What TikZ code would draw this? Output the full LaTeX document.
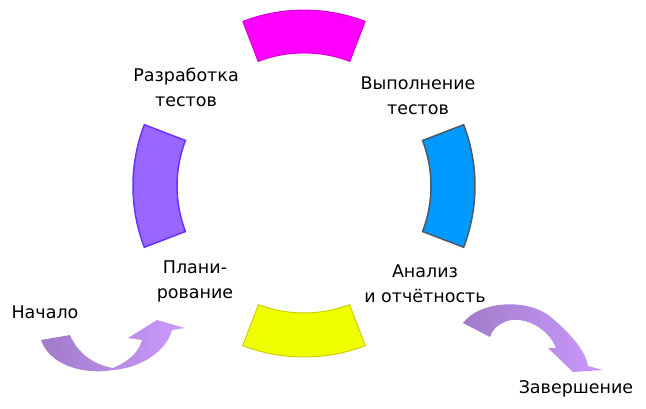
\documentclass[tikz,border=0pt]{standalone}
\usepackage{fontspec}
\setmainfont{DejaVu Sans}
\usetikzlibrary{calc}
\definecolor{segmag}{HTML}{FF00FF}
\definecolor{segmagline}{HTML}{C800C8}
\definecolor{segpur}{HTML}{9966FF}
\definecolor{segpurline}{HTML}{6633FF}
\definecolor{segblue}{HTML}{0099FF}
\definecolor{segblueline}{HTML}{4D5A66}
\definecolor{segyel}{HTML}{F0FF00}
\definecolor{segyelline}{HTML}{CCD000}
\definecolor{arrdark}{HTML}{A07CC8}
\definecolor{arrlight}{HTML}{CC99FF}
\newcommand{\ringseg}[4]{% center, mid angle, outer R, inner r
  ($(#1)+(#2-21:#3)$) arc[start angle=#2-21, end angle=#2+21, radius=#3]
  -- ($(#1)+(#2+21:#4)$) arc[start angle=#2+21, end angle=#2-21, radius=#4] -- cycle}
\tikzset{
  lbl/.style={inner sep=0pt, anchor=base, font=\fontsize{17.5}{25}\selectfont},
  arrowband/.style={left color=arrdark, right color=arrlight, draw=none},
}
\begin{document}
\begin{tikzpicture}[x=1pt,y=-1pt]
\useasboundingbox (0,0) rectangle (646,409);
\coordinate (C) at (304,186);
\coordinate (Ct) at (304,181);
% ring segments
\path[fill=segmag, draw=segmagline, line width=0.8pt] \ringseg{Ct}{270}{171}{128};
\path[fill=segpur, draw=segpurline, line width=1.5pt] \ringseg{C}{180}{171}{127};
\path[fill=segblue, draw=segblueline, line width=1.5pt] \ringseg{C}{0}{171}{127};
\path[fill=segyel, draw=segyelline, line width=1pt] \ringseg{C}{90}{171}{127};
% labels
\node[lbl] (razr) at (186,82) {\begin{tabular}[t]{@{}c@{}}Разработка\\тестов\end{tabular}};
\node[lbl] (vyp) at (418,90) {\begin{tabular}[t]{@{}c@{}}Выполнение\\тестов\end{tabular}};
\node[lbl] (plan) at (195,273) {\begin{tabular}[t]{@{}c@{}}Плани-\\рование\end{tabular}};
\node[lbl] (anal) at (425,277) {\begin{tabular}[t]{@{}c@{}}Анализ\\и отчётность\end{tabular}};
\node[lbl] (start) at (45,318) {Начало};
\node[lbl] (finish) at (576,393) {Завершение};
% left curved arrow
\path[arrowband] (41,340) -- (70,335)
  .. controls (77,352) and (93,365) .. (113,368)
  .. controls (128,362) and (139,352) .. (142,340)
  -- (128,338) -- (157,320) -- (185,328) -- (172,330)
  .. controls (166,352) and (140,368) .. (113,370)
  .. controls (85,375) and (50,366) .. (41,340) -- cycle;
% right curved arrow
\path[arrowband] (463,323)
  .. controls (480,300) and (530,298) .. (552,318)
  .. controls (572,335) and (586,352) .. (588,366)
  -- (603,370) -- (573,372) -- (548,348) -- (556,348)
  .. controls (548,328) and (525,316) .. (507,321)
  .. controls (497,325) and (492,330) .. (490,337) -- cycle;
\end{tikzpicture}
\end{document}
